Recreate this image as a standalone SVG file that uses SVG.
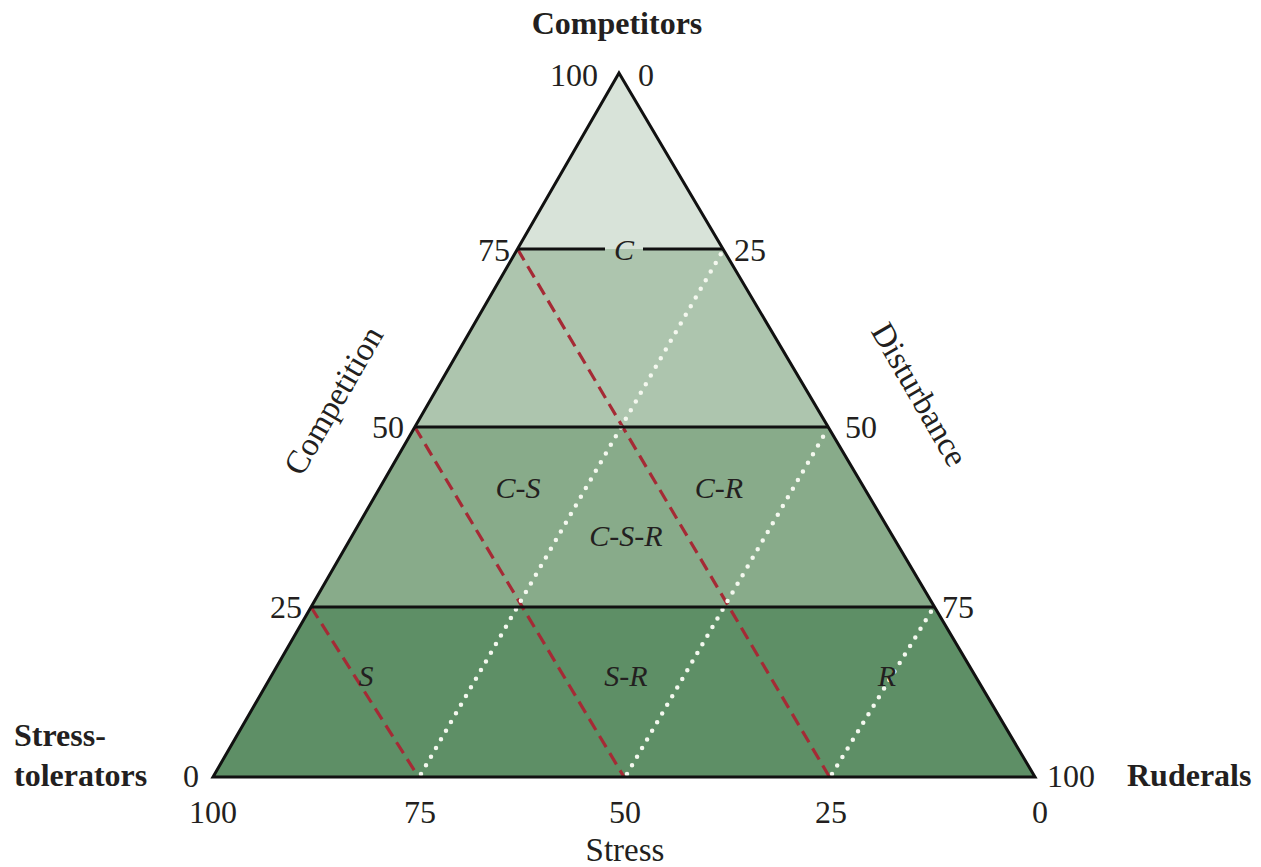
<svg xmlns="http://www.w3.org/2000/svg" width="1261" height="867" viewBox="0 0 1261 867">
<style>
text{font-family:"Liberation Serif","DejaVu Serif",serif;fill:#231f20;}
.n{font-size:32px;}
.b{font-size:32px;font-weight:bold;}
.a{font-size:33px;}
.i{font-size:30px;font-style:italic;text-anchor:middle;}
.k{stroke:#111;stroke-width:3;fill:none;}
.red{stroke:#a52a35;stroke-width:3.2;stroke-dasharray:13 7;fill:none;}
.wd{stroke:#f4f8ef;stroke-width:4.5;stroke-linecap:round;stroke-dasharray:0 10;fill:none;}
</style>
<rect width="1261" height="867" fill="#ffffff"/>
<g id="bands">
<polygon points="619,73 723,249 517.5,249" fill="#d8e3d9"/>
<polygon points="517.5,249 723,249 828.2,427 414.8,427" fill="#adc5ae"/>
<polygon points="414.8,427 828.2,427 934.5,607 311,607" fill="#88ab8a"/>
<polygon points="311,607 934.5,607 1035,777 213,777" fill="#5e8f66"/>
</g>
<g id="connectors">
<line class="red" x1="517.5" y1="249" x2="829.5" y2="777"/>
<line class="red" x1="414.8" y1="427" x2="624" y2="777"/>
<line class="red" x1="311" y1="607" x2="418.5" y2="777"/>
<line class="wd" x1="421" y1="774" x2="722" y2="252"/>
<line class="wd" x1="627" y1="774" x2="827" y2="430"/>
<line class="wd" x1="832" y1="774" x2="932" y2="610"/>
<line class="k" x1="517.5" y1="249" x2="605" y2="249"/>
<line class="k" x1="643" y1="249" x2="723" y2="249"/>
<line class="k" x1="414.8" y1="427" x2="828.2" y2="427"/>
<line class="k" x1="311" y1="607" x2="934.5" y2="607"/>
<polygon class="k" points="619,73 1035,777 213,777" stroke-linejoin="miter"/>
</g>
<g id="region-labels">
<text class="i" x="624" y="260">C</text>
<text class="i" x="518" y="498">C-S</text>
<text class="i" x="719" y="498">C-R</text>
<text class="i" x="626" y="546">C-S-R</text>
<text class="i" x="366" y="686">S</text>
<text class="i" x="626" y="686">S-R</text>
<text class="i" x="887" y="686">R</text>
</g>
<g id="corner-labels">
<text class="b" x="617" y="34" text-anchor="middle">Competitors</text>
<text class="b" x="14" y="746">Stress-</text>
<text class="b" x="14" y="786">tolerators</text>
<text class="b" x="1127" y="786">Ruderals</text>
</g>
<g id="ticks">
<text class="n" x="598" y="86" text-anchor="end">100</text>
<text class="n" x="638" y="86">0</text>
<text class="n" x="510" y="261" text-anchor="end">75</text>
<text class="n" x="734" y="261">25</text>
<text class="n" x="404" y="438" text-anchor="end">50</text>
<text class="n" x="845" y="438">50</text>
<text class="n" x="302" y="618" text-anchor="end">25</text>
<text class="n" x="942" y="618">75</text>
<text class="n" x="199" y="787" text-anchor="end">0</text>
<text class="n" x="1047" y="787">100</text>
<text class="n" x="213" y="823" text-anchor="middle">100</text>
<text class="n" x="420" y="823" text-anchor="middle">75</text>
<text class="n" x="625" y="823" text-anchor="middle">50</text>
<text class="n" x="831" y="823" text-anchor="middle">25</text>
<text class="n" x="1040" y="823" text-anchor="middle">0</text>
</g>
<g id="axis-labels">
<text class="a" x="625" y="861" text-anchor="middle">Stress</text>
<text class="a" text-anchor="middle" transform="translate(343,406) rotate(-60)">Competition</text>
<text class="a" text-anchor="middle" transform="translate(910,400) rotate(60)">Disturbance</text>
</g>
</svg>
